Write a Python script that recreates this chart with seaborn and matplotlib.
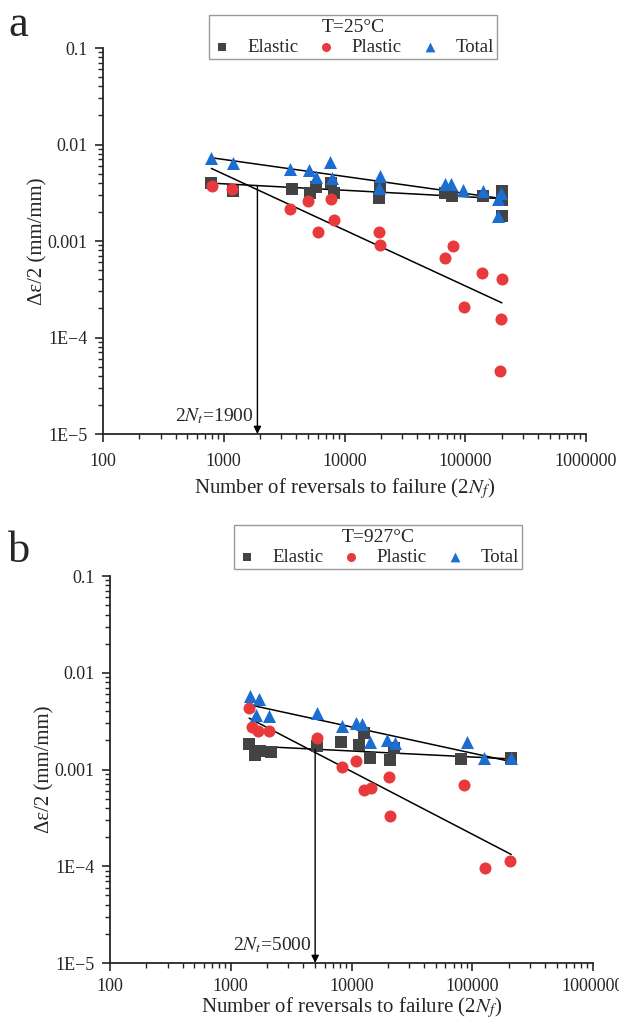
import numpy as np
import pandas as pd
import matplotlib
matplotlib.use("Agg")
import matplotlib.pyplot as plt
from matplotlib.ticker import FixedLocator, FuncFormatter, LogLocator, NullFormatter
import seaborn as sns

# ---- 25 °C data: strain amplitude vs. reversals to failure ----
a_elastic_n = [791, 1195, 3670, 5140, 5840, 7660, 8110, 19200, 19700, 68400, 77600, 140800, 201000, 201000, 201000]
a_elastic_e = [0.00403, 0.00330, 0.00344, 0.00318, 0.00366, 0.00403, 0.00313, 0.00277, 0.00366, 0.00313, 0.00293, 0.00293, 0.00330, 0.00267, 0.00183]
a_plastic_n = [802, 1175, 3556, 4980, 6030, 7660, 8110, 19200, 19700, 68400, 78500, 98100, 137000, 201000, 197000, 193000]
a_plastic_e = [0.00372, 0.00344, 0.00217, 0.00260, 0.00123, 0.00275, 0.00166, 0.00123, 0.00091, 0.000673, 0.00088, 0.000207, 0.000465, 0.000406, 0.000157, 0.0000454]
a_total_n = [791, 1195, 3508, 5070, 5840, 7520, 7910, 19700, 19200, 68400, 76200, 96200, 140800, 197000, 185000, 188000]
a_total_e = [0.0073, 0.00647, 0.00552, 0.0055, 0.0046, 0.00658, 0.00453, 0.00471, 0.00357, 0.00387, 0.00387, 0.00336, 0.0033, 0.00318, 0.00271, 0.0018]

# ---- 927 °C data ----
b_elastic_n = [1420, 1603, 1740, 2142, 5190, 8150, 11560, 12640, 14360, 20900, 22550, 80000, 211000]
b_elastic_e = [0.00184, 0.00140, 0.00155, 0.00151, 0.00173, 0.00191, 0.00178, 0.00240, 0.00130, 0.00124, 0.00166, 0.00129, 0.00132]
b_plastic_n = [1420, 1503, 1675, 2077, 5190, 8360, 11000, 12800, 14450, 20500, 20900, 85100, 126400, 207000]
b_plastic_e = [0.0043, 0.00273, 0.00252, 0.0025, 0.00214, 0.00107, 0.00121, 0.000615, 0.00064, 0.000845, 0.000334, 0.000698, 0.000097, 0.000112]
b_total_n = [1456, 1717, 1633, 2077, 5190, 8410, 10850, 12250, 14180, 19500, 22850, 89700, 124800, 209000]
b_total_e = [0.00575, 0.00532, 0.00366, 0.00358, 0.00387, 0.00282, 0.00305, 0.00296, 0.00193, 0.00202, 0.00187, 0.00193, 0.0013, 0.00132]

# Power-law fits  strain = coef * (2Nf)^exponent
a_fit_coef = {"Elastic": 0.00622, "Plastic": 0.269, "Total": 0.0236}
a_fit_exp = {"Elastic": -0.067, "Plastic": -0.579, "Total": -0.176}
b_fit_coef = {"Elastic": 0.00275, "Plastic": 0.377, "Total": 0.0334}
b_fit_exp = {"Elastic": -0.062, "Plastic": -0.649, "Total": -0.271}
a_fit_range = [790, 201000]
b_fit_range = [1420, 210000]

# Transition lives
a_transition = 1900
b_transition = 5000

temps = ["T=25°C", "T=927°C"]
kinds = ["Elastic", "Plastic", "Total"]
x_ticks = [100, 1000, 10000, 100000, 1000000]
y_ticks = [1e-5, 1e-4, 1e-3, 1e-2, 1e-1]
y_tick_labels = {1e-1: "0.1", 1e-2: "0.01", 1e-3: "0.001", 1e-4: "1E\u22124", 1e-5: "1E\u22125"}

palette = {"Elastic": "#434343", "Plastic": "#e83a3c", "Total": "#1c6dd0"}
markers = {"Elastic": "s", "Plastic": "o", "Total": "^"}
sizes = {"Elastic": 68, "Plastic": 75, "Total": 88}


def frame(en, ee, pn, pe, tn, te):
    parts = []
    for k, n, e in zip(kinds, [en, pn, tn], [ee, pe, te]):
        parts.append(pd.DataFrame({"N": n, "strain": e, "kind": k}))
    return pd.concat(parts, ignore_index=True)


df_a = frame(a_elastic_n, a_elastic_e, a_plastic_n, a_plastic_e, a_total_n, a_total_e)
df_b = frame(b_elastic_n, b_elastic_e, b_plastic_n, b_plastic_e, b_total_n, b_total_e)

sns.set_theme(style="ticks")
plt.rcParams["font.family"] = ["Liberation Serif", "DejaVu Serif"]
plt.rcParams["mathtext.fontset"] = "stix"
plt.rcParams["axes.linewidth"] = 1.3

fig = plt.figure(figsize=(6.19, 10.22), dpi=100)
ax_a = fig.add_axes([103 / 619, 1 - 434 / 1022, 483 / 619, 386 / 1022])
ax_b = fig.add_axes([110 / 619, 1 - 963 / 1022, 483 / 619, 387 / 1022])

# axes, data, fits, transition, legend title/anchor, panel letter, x tick pad, x label pad
panels = [
    (ax_a, df_a, a_fit_coef, a_fit_exp, a_fit_range, a_transition, temps[0], (353 / 619, 1 - 15 / 1022), "a", 36, 8, 4),
    (ax_b, df_b, b_fit_coef, b_fit_exp, b_fit_range, b_transition, temps[1], (378 / 619, 1 - 525 / 1022), "b", 562, 5, 0),
]

for ax, df, coef, expo, frange, nt, title, leg_xy, letter, letter_y, xpad, xlpad in panels:
    for k in kinds:
        sub = df[df["kind"] == k]
        sns.scatterplot(data=sub, x="N", y="strain", ax=ax, color=palette[k], marker=markers[k],
                        s=sizes[k], linewidth=0, label=k, zorder=3)
    xs = np.logspace(np.log10(frange[0]), np.log10(frange[1]), 50)
    for k in kinds:
        ax.plot(xs, coef[k] * xs ** expo[k], color="black", lw=1.1, zorder=2)

    ax.set_xscale("log")
    ax.set_yscale("log")
    ax.set_xlim(100, 1000000)
    ax.set_ylim(1e-5, 0.1)

    # transition life arrow down from the elastic line
    y_top = coef["Elastic"] * nt ** expo["Elastic"]
    ax.annotate("", xy=(nt, 1e-5), xytext=(nt, y_top),
                arrowprops=dict(arrowstyle="-|>", color="black", lw=1.0,
                                mutation_scale=11, shrinkA=0, shrinkB=0), zorder=4)
    ax.text(nt * 0.93, 1.2e-5, r"2$N_t$=" + str(nt), ha="right", va="bottom", fontsize=14)

    ax.xaxis.set_major_locator(FixedLocator(x_ticks))
    ax.xaxis.set_major_formatter(FuncFormatter(lambda v, p: f"{int(round(v))}"))
    ax.xaxis.set_minor_locator(LogLocator(base=10, subs=np.arange(2, 10)))
    ax.xaxis.set_minor_formatter(NullFormatter())
    ax.yaxis.set_major_locator(FixedLocator(y_ticks))
    ax.yaxis.set_major_formatter(FuncFormatter(lambda v, p: y_tick_labels.get(
        min(y_tick_labels, key=lambda t: abs(np.log10(t) - np.log10(v))), "")))
    ax.yaxis.set_minor_locator(LogLocator(base=10, subs=np.arange(2, 10)))
    ax.yaxis.set_minor_formatter(NullFormatter())
    ax.tick_params(which="major", direction="out", length=6, width=1.2, labelsize=13)
    ax.tick_params(axis="x", which="major", pad=xpad)
    ax.tick_params(axis="y", which="major", pad=5)
    ax.tick_params(which="minor", direction="out", length=3.5, width=1.0)
    sns.despine(ax=ax)

    ax.set_xlabel(r"Number of reversals to failure (2$N_f$)", fontsize=15, labelpad=xlpad)
    ax.set_ylabel("Δε/2 (mm/mm)", fontsize=15, labelpad=0)

    leg = ax.legend(title=title, ncol=3, loc="upper center", bbox_to_anchor=leg_xy,
                    bbox_transform=fig.transFigure, borderaxespad=0, frameon=True, fancybox=False,
                    fontsize=13.5, title_fontsize=14, handlelength=1.0, handletextpad=0.85,
                    columnspacing=1.0, borderpad=0.2, labelspacing=0.2, markerscale=0.75)
    leg.get_frame().set_edgecolor("#808080")
    leg.get_frame().set_linewidth(1.0)
    leg._legend_box.sep = 2

    fig.text(8 / 619, 1 - letter_y / 1022, letter, fontsize=32, ha="left", va="baseline")

fig.savefig("out.png", dpi=100)
